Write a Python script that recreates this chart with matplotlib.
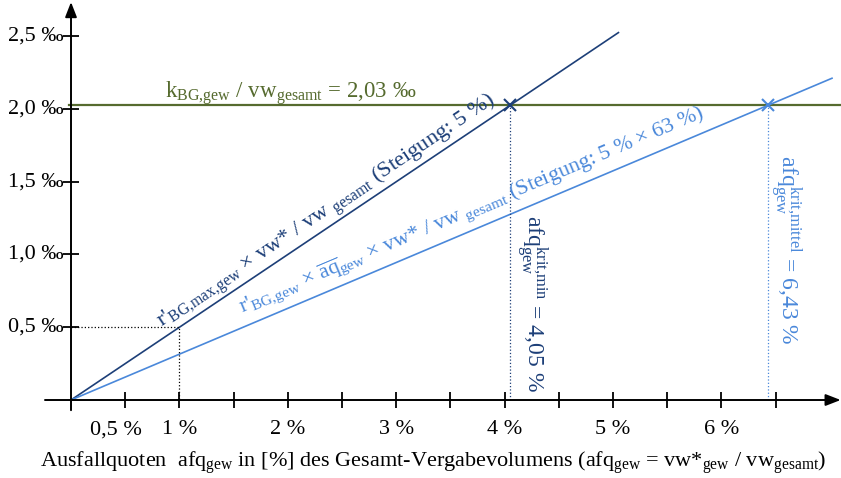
import matplotlib

matplotlib.use("Agg")
import numpy as np
from matplotlib import pyplot as plt  # noqa: E402

# data (x in %, y in per mille)
k_ratio = 2.03
slope_max = 0.5          # 5 %
slope_mid = 0.315        # 5 % x 63 %
x_max_line = [0.0, 5.05]
x_mid_line = [0.0, 7.02]
afq_min = 4.05
afq_mid = 6.43
x_ticks = [0.5, 1, 1.5, 2, 2.5, 3, 3.5, 4, 4.5, 5, 5.5, 6, 6.5]
x_ticklabels = {0.5: "0,5 %", 1: "1 %", 2: "2 %", 3: "3 %", 4: "4 %", 5: "5 %", 6: "6 %"}
y_ticks = [0.5, 1.0, 1.5, 2.0, 2.5]
y_ticklabels = ["0,5 ‰", "1,0 ‰", "1,5 ‰", "2,0 ‰", "2,5 ‰"]

DARK = "#1d3f78"
LIGHT = "#4a88da"
OLIVE = "#566b2f"

plt.rcParams["font.family"] = ["Liberation Serif", "DejaVu Serif"]
plt.rcParams["mathtext.default"] = "regular"

fig = plt.figure(figsize=(8.41, 4.78), dpi=100)
ax = fig.add_axes([0, 0, 1, 1])
ax.set_xlim(-0.655, 7.103)
ax.set_ylim(-0.536, 2.749)
ax.axis("off")

# axes with arrows
ax.annotate("", xy=(7.10, 0), xytext=(-0.24, 0),
            arrowprops=dict(arrowstyle="-|>,head_length=0.9,head_width=0.35",
                            color="black", lw=1.4, shrinkA=0, shrinkB=0))
ax.annotate("", xy=(0, 2.735), xytext=(0, -0.07),
            arrowprops=dict(arrowstyle="-|>,head_length=0.9,head_width=0.35",
                            color="black", lw=1.4, shrinkA=0, shrinkB=0))
ax.plot(x_ticks, np.zeros(len(x_ticks)), ls="none", marker="|", ms=11,
        mew=1.3, color="black")
ax.plot(np.zeros(len(y_ticks)), y_ticks, ls="none", marker="_", ms=11,
        mew=1.3, color="black")
for value, label in x_ticklabels.items():
    shift = -0.09 if value == 0.5 else 0.0
    ax.text(value + shift, -0.205, label, ha="center", va="center", fontsize=16)
for value, label in zip(y_ticks, y_ticklabels):
    ax.text(-0.07, value, label, ha="right", va="center", fontsize=16)

# horizontal threshold line
ax.plot([-0.02, 7.103], [k_ratio, k_ratio], color=OLIVE, lw=1.6)
ax.text(0.87, k_ratio + 0.045, "k$_{BG{,}gew}$ / vw$_{gesamt}$ = 2,03 ‰",
        color=OLIVE, fontsize=16.5, ha="left", va="baseline")

# sloped lines
xs = np.array(x_max_line)
ax.plot(xs, slope_max * xs, color=DARK, lw=1.2)
xs = np.array(x_mid_line)
ax.plot(xs, slope_mid * xs, color=LIGHT, lw=1.2)

ax.text(0.84, slope_max * 0.84 + 0.08,
        "r'$_{BG{,}max{,}gew}$ × vw* / vw$_{\\ gesamt}$ (Steigung: 5 %)",
        color=DARK, fontsize=16.2, ha="left", va="baseline",
        rotation=np.degrees(np.arctan(slope_max)), rotation_mode="anchor",
        transform_rotates_text=True)
ax.text(1.58, slope_mid * 1.58 + 0.1,
        "r'$_{BG{,}gew}$ × $\\overline{aq}_{gew}$ × vw* / vw$_{\\ gesamt}$ (Steigung: 5 % × 63 %)",
        color=LIGHT, fontsize=15.8, ha="left", va="baseline",
        rotation=np.degrees(np.arctan(slope_mid)), rotation_mode="anchor",
        transform_rotates_text=True)

# helper dotted lines
ax.plot([0, 1, 1], [slope_max, slope_max, 0], color="black", lw=0.9, ls=":")
ax.plot([afq_min, afq_min], [0, k_ratio], color=DARK, lw=0.9, ls=":")
ax.plot([afq_mid, afq_mid], [0, k_ratio], color=LIGHT, lw=0.9, ls=":")
ax.plot([afq_min], [k_ratio], marker="x", ms=9, mew=1.5, color=DARK)
ax.plot([afq_mid], [k_ratio], marker="x", ms=9, mew=1.5, color=LIGHT)

ax.text(afq_min + 0.04, 1.27, "afq$_{gew}^{krit{,}min}$ = 4,05 %",
        color=DARK, fontsize=17, rotation=270, ha="left", va="top")
ax.text(afq_mid + 0.0, 1.684, "afq$_{gew}^{krit{,}mittel}$ = 6,43 %",
        color=LIGHT, fontsize=17, rotation=270, ha="left", va="top")

ax.text(3.34, -0.433,
        "Ausfallquoten  afq$_{gew}$ in [%] des Gesamt-Vergabevolumens "
        "(afq$_{gew}$ = vw*$_{gew}$ / vw$_{gesamt}$)",
        fontsize=16, ha="center", va="center")

fig.savefig("out.png", dpi=100)
plt.close(fig)
